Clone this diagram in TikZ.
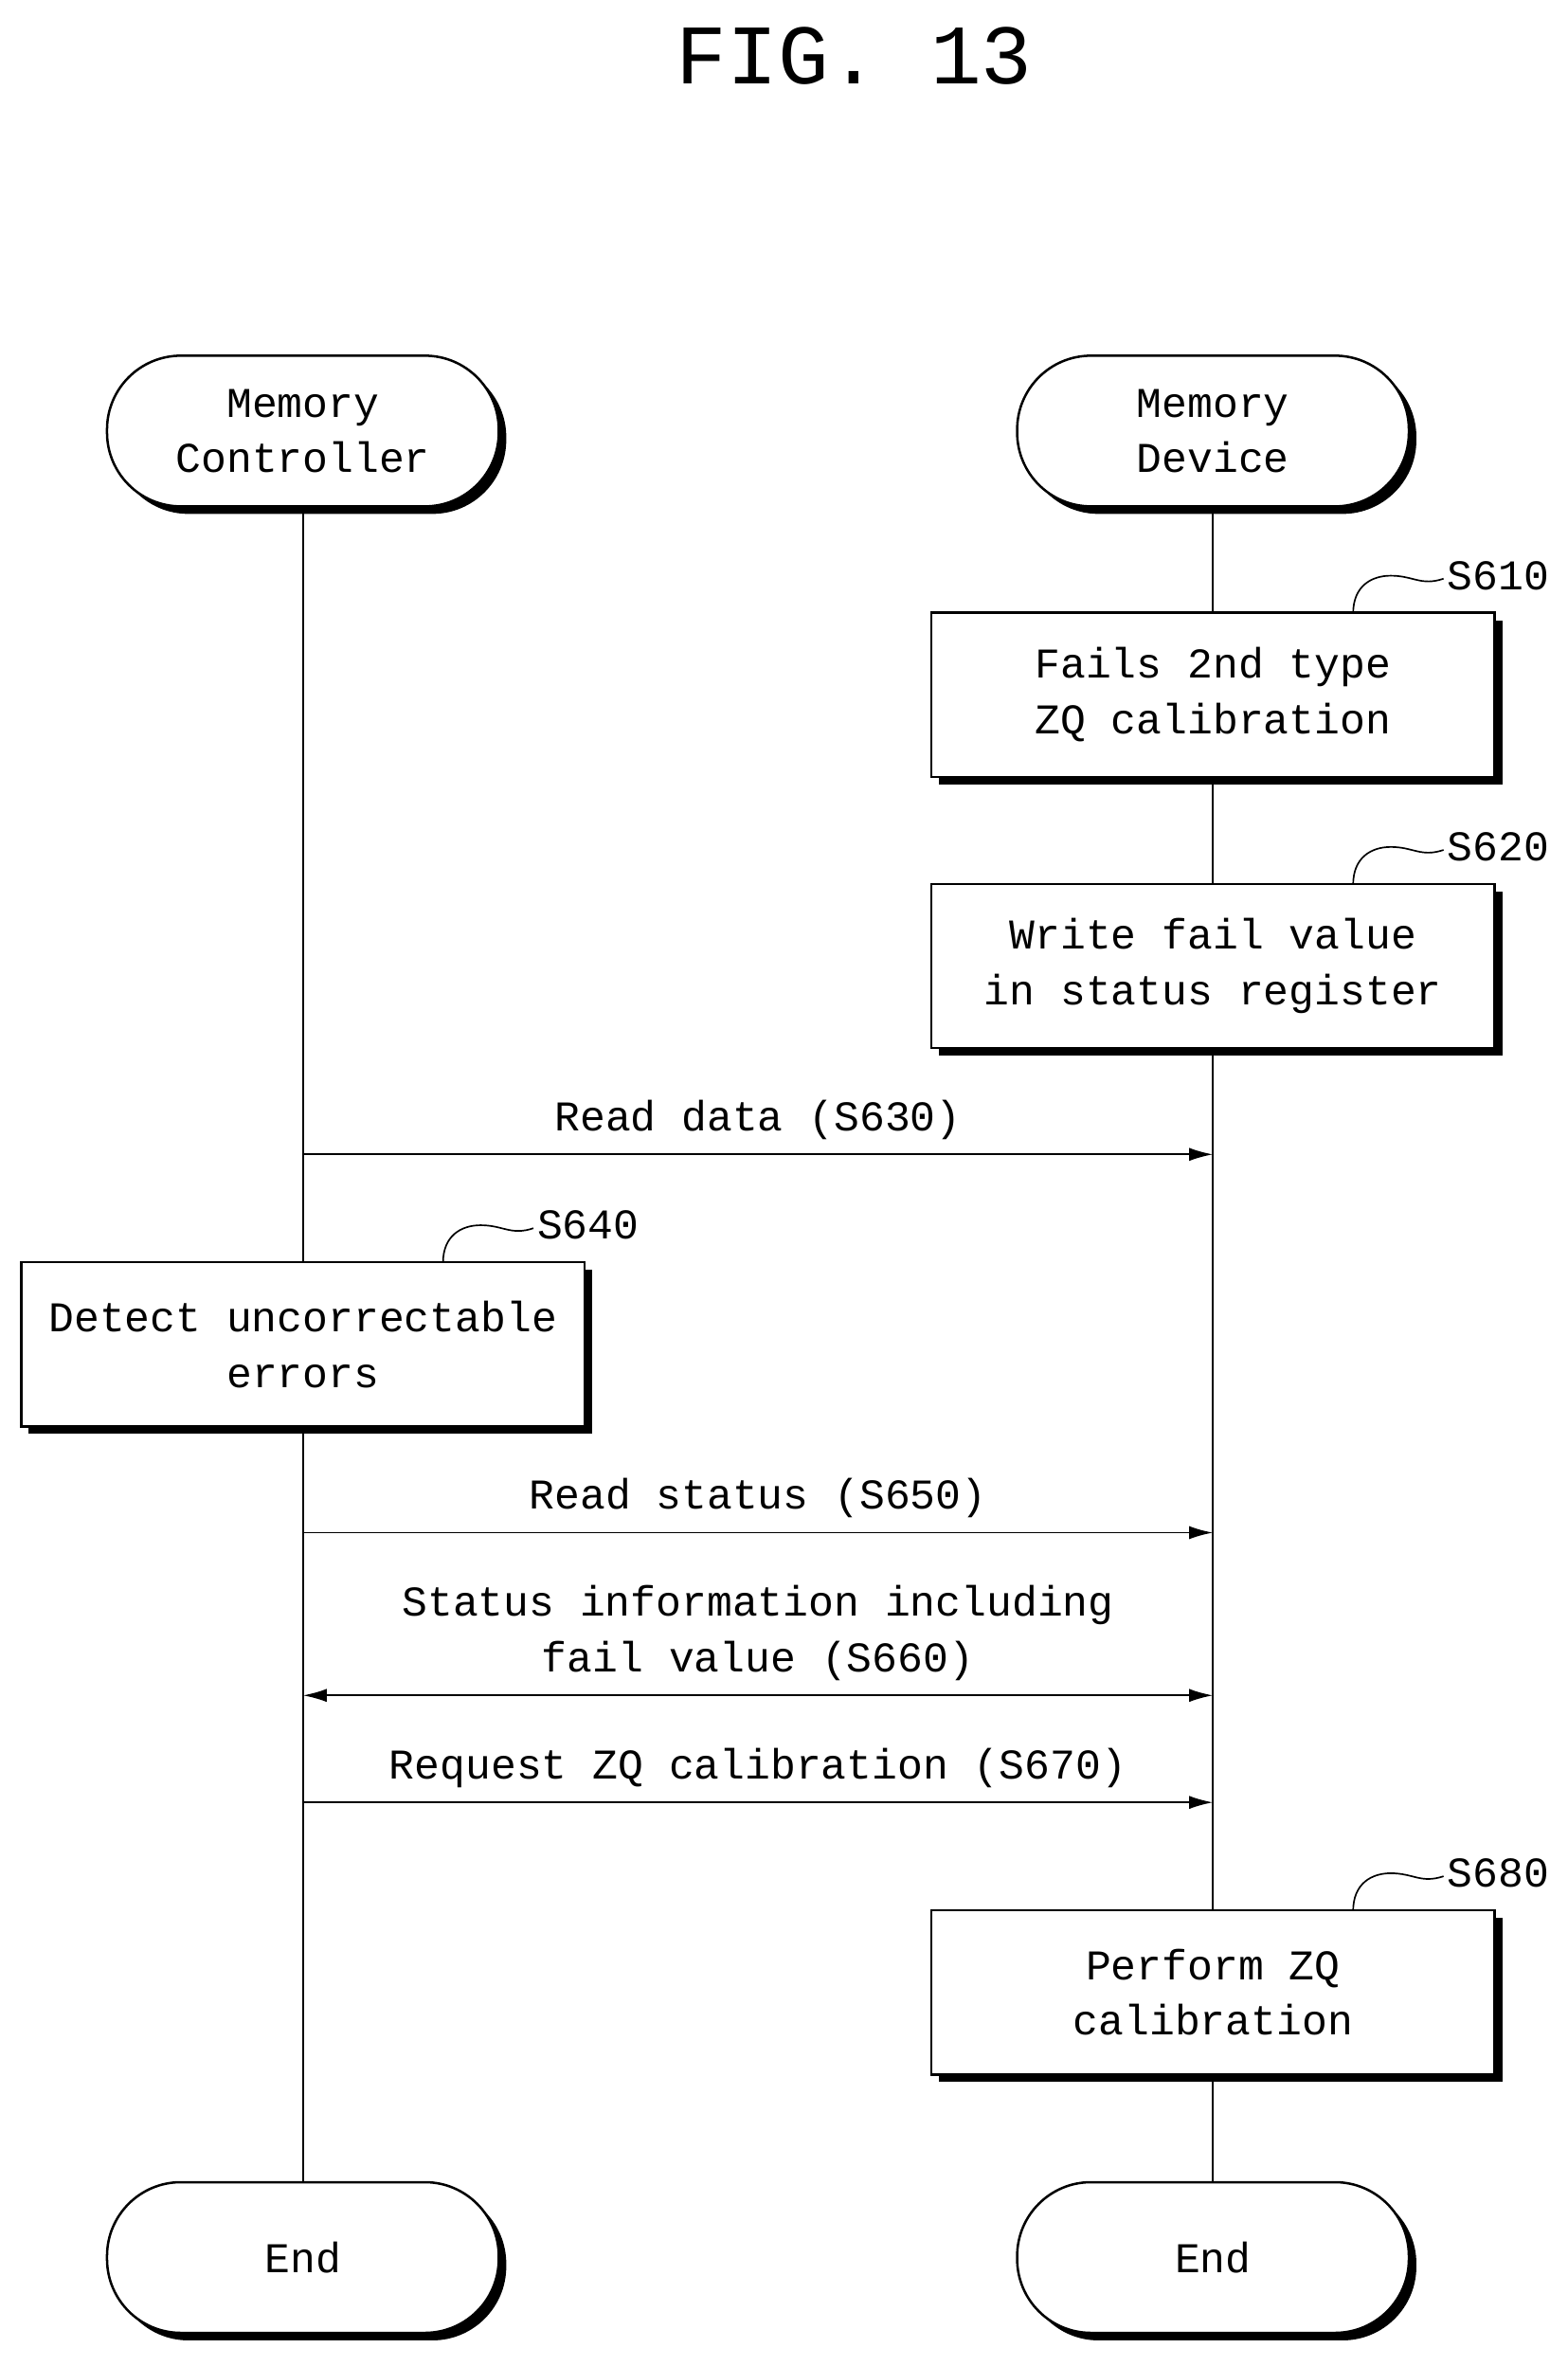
\documentclass[tikz,border=0pt]{standalone}
\usepackage{fontspec}
\setmainfont{Liberation Mono}
\usetikzlibrary{shadows,arrows.meta}

\begin{document}
\fontsize{16}{21}\selectfont
\begin{tikzpicture}[x=0.02cm,y=-0.02cm,line width=0.9pt,
    term/.style={draw,fill=white,rounded corners=0.98cm,minimum width=5.2cm,minimum height=2cm,align=center,
        drop shadow={shadow xshift=0.1cm,shadow yshift=-0.1cm,opacity=1,fill=black}},
    stepbox/.style={draw,fill=white,minimum width=7.48cm,minimum height=2.18cm,align=center,
        drop shadow={shadow xshift=0.1cm,shadow yshift=-0.1cm,opacity=1,fill=black}},
    msg/.style={-{Latex[length=9pt,width=5pt]},line width=0.7pt}]
    \useasboundingbox (0,0) rectangle (1040,1570);

    \node (title) at (567,37) {\fontsize{32}{40}\selectfont FIG. 13};

    % lifelines
    \coordinate (lt) at (201,336);
    \coordinate (lb) at (201,1448);
    \coordinate (rt) at (805,336);
    \coordinate (rb) at (805,1448);
    \draw[line width=0.7pt] (lt) -- (lb);
    \draw[line width=0.7pt] (rt) -- (rb);

    \node[term] (mc) at (201,286) {Memory\\Controller};
    \node[term] (md) at (805,286) {Memory\\Device};

    \node[stepbox] (s610) at (805,461) {Fails 2nd type\\ZQ calibration};
    \node[stepbox] (s620) at (805,641) {Write fail value\\in status register};
    \node[stepbox] (s640) at (201,892) {Detect uncorrectable\\errors};
    \node[stepbox] (s680) at (805,1322) {Perform ZQ\\calibration};

    \node[term] (endl) at (201,1498) {End};
    \node[term] (endr) at (805,1498) {End};

    % step labels
    \foreach \x/\y in {898/407,898/587,294/838,898/1268}{
        \draw[line width=0.6pt] (\x,\y) .. controls (\x,\y-18) and (\x+12,\y-25) .. (\x+25,\y-25)
            .. controls (\x+40,\y-25) and (\x+45,\y-18) .. (\x+60,\y-23);
    }
    \node[anchor=west,inner sep=1pt] at (958,382) {S610};
    \node[anchor=west,inner sep=1pt] at (958,562) {S620};
    \node[anchor=west,inner sep=1pt] at (354,813) {S640};
    \node[anchor=west,inner sep=1pt] at (958,1243) {S680};

    % messages
    \coordinate (a1) at (201,766);  \coordinate (b1) at (805,766);
    \coordinate (a2) at (201,1017); \coordinate (b2) at (805,1017);
    \coordinate (a3) at (201,1125); \coordinate (b3) at (805,1125);
    \coordinate (a4) at (201,1196); \coordinate (b4) at (805,1196);
    \draw[msg] (a1) -- node[above] {Read data (S630)} (b1);
    \draw[msg] (a2) -- node[above] {Read status (S650)} (b2);
    \draw[msg,{Latex[length=9pt,width=5pt]}-{Latex[length=9pt,width=5pt]}] (a3) -- node[above,align=center] {Status information including\\fail value (S660)} (b3);
    \draw[msg] (a4) -- node[above] {Request ZQ calibration (S670)} (b4);
\end{tikzpicture}
\end{document}
